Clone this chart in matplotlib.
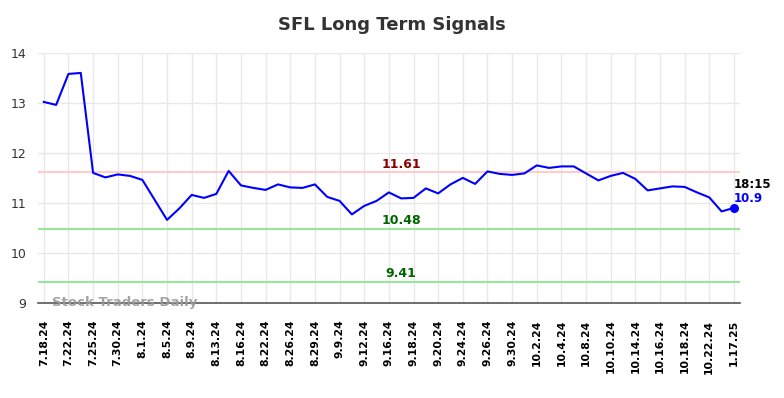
import matplotlib
matplotlib.use('Agg')
import matplotlib.pyplot as plt

titulo = 'SFL Long Term Signals'

precios = [13.02, 12.96, 13.58, 13.60, 11.60, 11.51, 11.57, 11.54, 11.46, 11.06,
           10.66, 10.89, 11.16, 11.10, 11.18, 11.64, 11.35, 11.30, 11.26, 11.37,
           11.31, 11.30, 11.37, 11.12, 11.04, 10.77, 10.94, 11.04, 11.21, 11.09,
           11.10, 11.29, 11.19, 11.37, 11.50, 11.38, 11.63, 11.58, 11.56, 11.59,
           11.75, 11.70, 11.73, 11.73, 11.59, 11.45, 11.54, 11.60, 11.48, 11.25,
           11.29, 11.33, 11.32, 11.21, 11.11, 10.83, 10.90]

etiquetas = ['7.18.24', '7.22.24', '7.25.24', '7.30.24', '8.1.24', '8.5.24', '8.9.24',
             '8.13.24', '8.16.24', '8.22.24', '8.26.24', '8.29.24', '9.9.24', '9.12.24',
             '9.16.24', '9.18.24', '9.20.24', '9.24.24', '9.26.24', '9.30.24', '10.2.24',
             '10.4.24', '10.8.24', '10.10.24', '10.14.24', '10.16.24', '10.18.24',
             '10.22.24', '1.17.25']

resistencia = 11.61
soportes = [10.48, 9.41]
hora = '18:15'
ultimo = 10.9

x = list(range(len(precios)))

fig = plt.figure(figsize=(7.84, 3.98), dpi=100)
ax = fig.add_axes([0.048, 0.239, 0.896, 0.628])

ax.plot(x, precios, color='#0000ff', linewidth=1.5, zorder=3)
ax.scatter([x[-1]], [precios[-1]], color='#0000ff', s=30, zorder=4)

ax.axhline(resistencia, color='#ffcccc', linewidth=1.5, zorder=2)
for s in soportes:
    ax.axhline(s, color='#99e699', linewidth=1.5, zorder=2)

centro = 29
ax.text(centro, resistencia + 0.03, f'{resistencia:.2f}', color='#8b0000',
        fontsize=9, fontweight='bold', ha='center', va='bottom')
for s in soportes:
    ax.text(centro, s + 0.04, f'{s:.2f}', color='#006400',
            fontsize=9, fontweight='bold', ha='center', va='bottom')

ax.text(x[-1], ultimo + 0.46, hora, color='black', fontsize=8.5,
        fontweight='bold', ha='left', va='center')
ax.text(x[-1], ultimo + 0.18, f'{ultimo}', color='#0000ff', fontsize=8.5,
        fontweight='bold', ha='left', va='center')

ax.text(0.7, 9.0, 'Stock Traders Daily', color='#999999', fontsize=9.5,
        fontweight='bold', ha='left', va='center', alpha=0.9)

ax.set_xlim(-0.5, len(precios) - 0.5)
ax.set_ylim(9, 14)
ax.set_yticks([9, 10, 11, 12, 13, 14])
ax.set_xticks(x[::2])
ax.set_xticklabels(etiquetas, rotation=90, fontsize=7.8, fontweight='bold')
ax.tick_params(axis='y', labelsize=9, colors='#333333', length=0, pad=8)
ax.tick_params(axis='x', length=0, pad=12)

ax.grid(True, color='#e8e8e8', linewidth=1)
ax.set_axisbelow(True)
for lado in ['top', 'right', 'left']:
    ax.spines[lado].set_visible(False)
ax.spines['bottom'].set_color('#555555')
ax.spines['bottom'].set_linewidth(1.2)

fig.suptitle(titulo, fontsize=13, fontweight='bold', color='#333333', y=0.96)

fig.savefig('out.png', dpi=100)
